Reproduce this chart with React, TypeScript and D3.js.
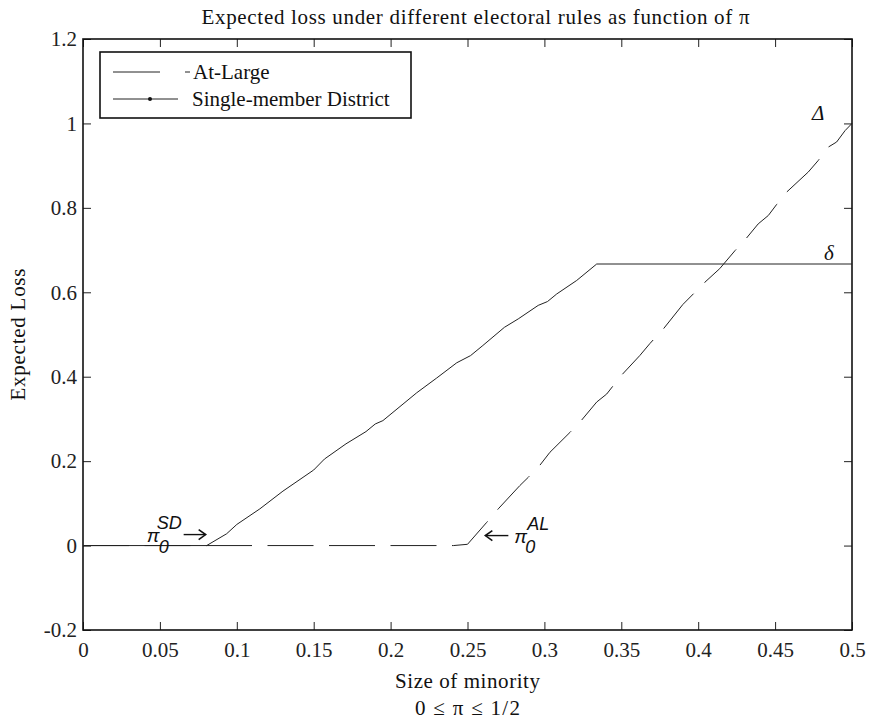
import React, { useRef, useEffect } from "react";
import * as d3 from "d3";

// values
const xTicks = [0, 0.05, 0.1, 0.15, 0.2, 0.25, 0.3, 0.35, 0.4, 0.45, 0.5];
const yTicks = [-0.2, 0, 0.2, 0.4, 0.6, 0.8, 1, 1.2];

// Single-member District (solid)
const sdX = [0, 0.0804, 0.0934, 0.1, 0.115, 0.13, 0.15, 0.157, 0.171, 0.184, 0.19, 0.195, 0.217, 0.23, 0.243, 0.252, 0.26, 0.274, 0.283, 0.296, 0.302, 0.308, 0.321, 0.334, 0.5];
const sdY = [0, 0, 0.028, 0.05, 0.087, 0.129, 0.179, 0.205, 0.241, 0.27, 0.288, 0.296, 0.362, 0.397, 0.433, 0.45, 0.474, 0.517, 0.537, 0.569, 0.578, 0.596, 0.628, 0.667, 0.667];

// At-Large (dashed)
const alX = [0, 0.2408, 0.25, 0.2625, 0.27, 0.284, 0.2896, 0.297, 0.3036, 0.3166, 0.323, 0.334, 0.3405, 0.35, 0.362, 0.3687, 0.3773, 0.39, 0.4044, 0.414, 0.424, 0.4304, 0.439, 0.4456, 0.451, 0.4574, 0.4716, 0.478, 0.4846, 0.49, 0.4955, 0.5];
const alY = [0, 0, 0.003, 0.055, 0.087, 0.142, 0.162, 0.19, 0.221, 0.268, 0.292, 0.34, 0.359, 0.403, 0.45, 0.479, 0.513, 0.571, 0.624, 0.656, 0.699, 0.724, 0.762, 0.782, 0.808, 0.837, 0.885, 0.912, 0.944, 0.956, 0.983, 1.0];

const serif = "'Liberation Serif', 'DejaVu Serif', serif";
const sans = "'Liberation Sans', Arial, sans-serif";

const App = () => {
  const svgRef = useRef<SVGSVGElement>(null);
  const width = 869;
  const height = 727;
  const margin = { left: 83, right: 17, top: 39, bottom: 97 };

  useEffect(() => {
    const innerW = width - margin.left - margin.right;
    const innerH = height - margin.top - margin.bottom;
    const xScale = d3.scaleLinear().domain([0, 0.5]).range([0, innerW]);
    const yScale = d3.scaleLinear().domain([-0.2, 1.2]).range([innerH, 0]);

    const svgEl = d3.select(svgRef.current);
    svgEl.selectAll("*").remove();
    svgEl.append("rect").attr("width", width).attr("height", height).attr("fill", "white");
    const svg = svgEl.append("g").attr("transform", `translate(${margin.left},${margin.top})`);

    const fmt = (v: number) => String(+v.toFixed(2));
    const tickLen = 8;

    // bottom axis with labels, ticks inward
    const xAxis = svg
      .append("g")
      .attr("transform", `translate(0,${innerH})`)
      .call(d3.axisBottom(xScale).tickValues(xTicks).tickSize(-tickLen).tickPadding(14).tickFormat((d) => fmt(+d)));
    // top axis, ticks only
    const xTop = svg.append("g").call(d3.axisTop(xScale).tickValues(xTicks).tickSize(-tickLen).tickFormat(() => ""));
    // left axis with labels
    const yAxis = svg
      .append("g")
      .call(d3.axisLeft(yScale).tickValues(yTicks).tickSize(-tickLen).tickPadding(6).tickFormat((d) => fmt(+d)));
    const yRight = svg
      .append("g")
      .attr("transform", `translate(${innerW},0)`)
      .call(d3.axisRight(yScale).tickValues(yTicks).tickSize(-tickLen).tickFormat(() => ""));

    [xAxis, xTop, yAxis, yRight].forEach((g) => {
      g.select(".domain").remove();
      g.selectAll("line").attr("stroke", "#222").attr("stroke-width", 1);
      g.selectAll("text").attr("fill", "#222").attr("font-family", serif).attr("font-size", 21);
    });
    xAxis.selectAll("text").attr("dy", "0.6em");

    // box
    svg
      .append("rect")
      .attr("width", innerW)
      .attr("height", innerH)
      .attr("fill", "none")
      .attr("stroke", "#111")
      .attr("stroke-width", 1.6);

    const line = d3
      .line<[number, number]>()
      .x((d) => xScale(d[0]))
      .y((d) => yScale(d[1]));

    const alData = alX.map((x, i) => [x, alY[i]] as [number, number]);
    const sdData = sdX.map((x, i) => [x, sdY[i]] as [number, number]);

    svg
      .append("path")
      .attr("d", line(alData))
      .attr("fill", "none")
      .attr("stroke", "#222")
      .attr("stroke-width", 1)
      .attr("stroke-dasharray", "46 15.5");
    svg
      .append("path")
      .attr("d", line(sdData))
      .attr("fill", "none")
      .attr("stroke", "#222")
      .attr("stroke-width", 1);

    // annotations
    const ann = svgEl.append("g").attr("fill", "#111");
    const sdStart = margin.left + xScale(sdX[1]);
    const alStart = margin.left + xScale(alX[1]);
    const zeroY = margin.top + yScale(0);
    const it = (x: number, y: number, s: number, t: string) =>
      ann.append("text").attr("x", x).attr("y", y).attr("font-family", sans).attr("font-style", "italic").attr("font-size", s).text(t);

    // arrow drawn as a shaft plus a chevron head
    const arrow = (x1: number, x2: number, y: number) => {
      const dir = Math.sign(x2 - x1);
      ann.append("line").attr("x1", x1).attr("x2", x2).attr("y1", y).attr("y2", y).attr("stroke", "#111").attr("stroke-width", 1.4);
      ann
        .append("path")
        .attr("d", `M${x2 - dir * 7},${y - 5} L${x2},${y} L${x2 - dir * 7},${y + 5}`)
        .attr("fill", "none")
        .attr("stroke", "#111")
        .attr("stroke-width", 1.6);
    };

    it(sdStart - 60, zeroY - 4, 19, "π");
    it(sdStart - 48, zeroY + 7, 18, "0");
    it(sdStart - 50, zeroY - 17, 18, "SD");
    arrow(sdStart - 23, sdStart - 1, zeroY - 11);

    arrow(alStart + 55, alStart + 32, zeroY - 10);
    it(alStart + 61, zeroY - 3, 19, "π");
    it(alStart + 72, zeroY + 7, 18, "0");
    it(alStart + 74, zeroY - 16, 18, "AL");

    ann.append("text").attr("x", margin.left + xScale(0.5) - 40).attr("y", margin.top + yScale(1) - 3).attr("font-family", serif).attr("font-style", "italic").attr("font-size", 21).text("Δ");
    ann.append("text").attr("x", margin.left + xScale(0.5) - 28).attr("y", margin.top + yScale(0.667) - 4).attr("font-family", serif).attr("font-style", "italic").attr("font-size", 21).text("δ");

    // titles
    const cx = margin.left + innerW / 2;
    svgEl.append("text").attr("x", cx + 8).attr("y", 24).attr("text-anchor", "middle").attr("font-family", serif).attr("font-size", 21).attr("textLength", 548).attr("fill", "#111").text("Expected loss under different electoral rules as function of π");
    svgEl.append("text").attr("x", cx).attr("y", 688).attr("text-anchor", "middle").attr("font-family", serif).attr("font-size", 21).attr("textLength", 145).attr("fill", "#111").text("Size of minority");
    svgEl.append("text").attr("x", cx).attr("y", 715).attr("text-anchor", "middle").attr("font-family", serif).attr("font-size", 21).attr("textLength", 105).attr("fill", "#111").text("0 ≤ π ≤ 1/2");
    svgEl
      .append("text")
      .attr("transform", `translate(25,${margin.top + innerH / 2}) rotate(-90)`)
      .attr("text-anchor", "middle")
      .attr("font-family", serif)
      .attr("font-size", 21)
      .attr("textLength", 132)
      .attr("fill", "#111")
      .text("Expected Loss");

    // legend
    const lg = svgEl.append("g");
    lg.append("rect").attr("x", 100).attr("y", 52).attr("width", 311).attr("height", 66).attr("fill", "white").attr("stroke", "#111").attr("stroke-width", 1.6);
    lg.append("line").attr("x1", 113).attr("x2", 190).attr("y1", 72).attr("y2", 72).attr("stroke", "#222").attr("stroke-dasharray", "47 25");
    lg.append("text").attr("x", 193).attr("y", 79).attr("font-family", serif).attr("font-size", 21).attr("fill", "#111").text("At-Large");
    lg.append("line").attr("x1", 113).attr("x2", 178).attr("y1", 99).attr("y2", 99).attr("stroke", "#222");
    lg.append("circle").attr("cx", 150).attr("cy", 99).attr("r", 2).attr("fill", "#111");
    lg.append("text").attr("x", 192).attr("y", 106).attr("font-family", serif).attr("font-size", 21).attr("fill", "#111").text("Single-member District");
  }, []);

  return <svg ref={svgRef} width={width} height={height} style={{ position: "absolute", left: 0, top: 0 }} />;
};

export default App;
